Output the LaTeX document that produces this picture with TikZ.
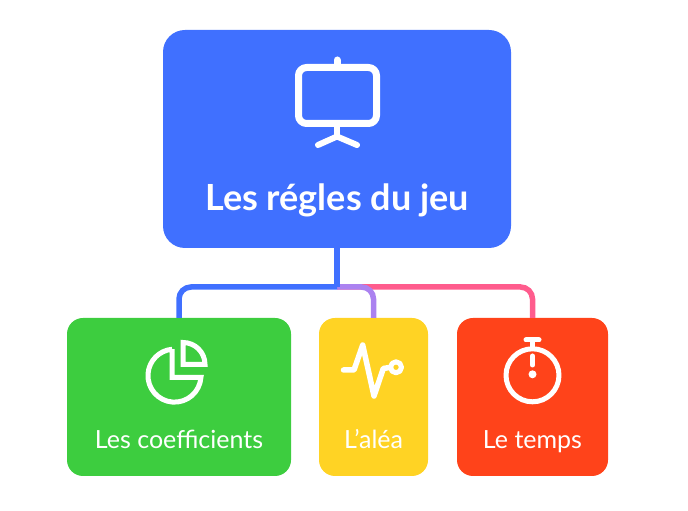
\documentclass[tikz,border=0pt]{standalone}
\usepackage{xcolor}
\usepackage{fontspec}
\setmainfont{Lato}
\usepackage{tikz}
\definecolor{mainblue}{HTML}{4070FF}
\definecolor{wirepink}{HTML}{FF5C8D}
\definecolor{wirepurple}{HTML}{AB82F0}
\definecolor{boxgreen}{HTML}{3DCD3F}
\definecolor{boxyellow}{HTML}{FFD324}
\definecolor{boxred}{HTML}{FF431A}
\begin{document}
\begin{tikzpicture}[x=1pt, y=1pt,
  box/.style={inner sep=0pt, rounded corners=16pt, minimum height=158pt},
  boxtext/.style={anchor=base, text=white, inner sep=0pt, font=\fontsize{25}{25}\selectfont},
  wire/.style={line width=5.5pt, rounded corners=12pt},
  icon/.style={draw=white, line width=5.5pt, line cap=round, line join=round}]
  \useasboundingbox (0,0) rectangle (688,511);
  \node[box, fill=mainblue, rounded corners=22pt, minimum width=348pt, minimum height=218pt] (main) at (337,372) {};
  \node[box, fill=boxgreen, minimum width=224pt] (coef) at (179,114) {};
  \node[box, fill=boxyellow, minimum width=109pt] (alea) at (373.5,114) {};
  \node[box, fill=boxred, minimum width=151pt] (temps) at (532.5,114) {};
  \node[boxtext, font=\fontsize{36}{36}\selectfont\bfseries] (titre) at (337,300) {Les régles du jeu};
  \node[boxtext] (coeft) at (179,62) {Les coefficients};
  \node[boxtext] (aleat) at (373.5,62) {L'aléa};
  \node[boxtext] (tempst) at (532.5,62) {Le temps};
  \coordinate (bus) at (337,224);
  % connectors
  \draw[wire, draw=wirepink] (bus) -| (temps.north);
  \draw[wire, draw=wirepurple] (bus) -| (alea.north);
  \draw[wire, draw=mainblue] (bus) -| (coef.north);
  \draw[wire, draw=mainblue] (main.south) -- (bus);
  % board
  \draw[icon, line width=7pt, rounded corners=8pt] (298.5,387.5) rectangle (376.5,443.5);
  \draw[icon, line width=7pt] (337,447) -- (337,451);
  \draw[icon, line width=6pt, line cap=butt] (337,384) -- (337,374);
  \draw[icon, line width=6pt] (318,366) -- (337,374.5) -- (357,366);
  % pie
  \draw[icon, line width=5pt, line cap=butt, line join=miter] (172.2,161.9) -- (172.2,133.5) -- (200.9,133.5) arc (-4:-265:26.5);
  \draw[icon, line width=5pt, line join=miter] (183,146.5) -- (183,168.5) arc (90:0:22) -- cycle;
  % pulse
  \draw[icon] (343.5,141) -- (354,141) -- (362.7,166) -- (374,115) -- (383.3,142.5) -- (390.5,143.7);
  \draw[icon, line width=5pt] (396,143.7) circle (5.5);
  % stopwatch
  \draw[icon, line width=5pt] (532.5,135.7) circle (26.5);
  \draw[icon, line width=5pt] (526,171) -- (539,171);
  \draw[icon, line width=5pt] (532.5,171) -- (532.5,164);
  \draw[icon, line width=5pt] (532.5,155) -- (532.5,146);
  \fill[white] (532.5,136.7) circle (4);
\end{tikzpicture}
\end{document}
